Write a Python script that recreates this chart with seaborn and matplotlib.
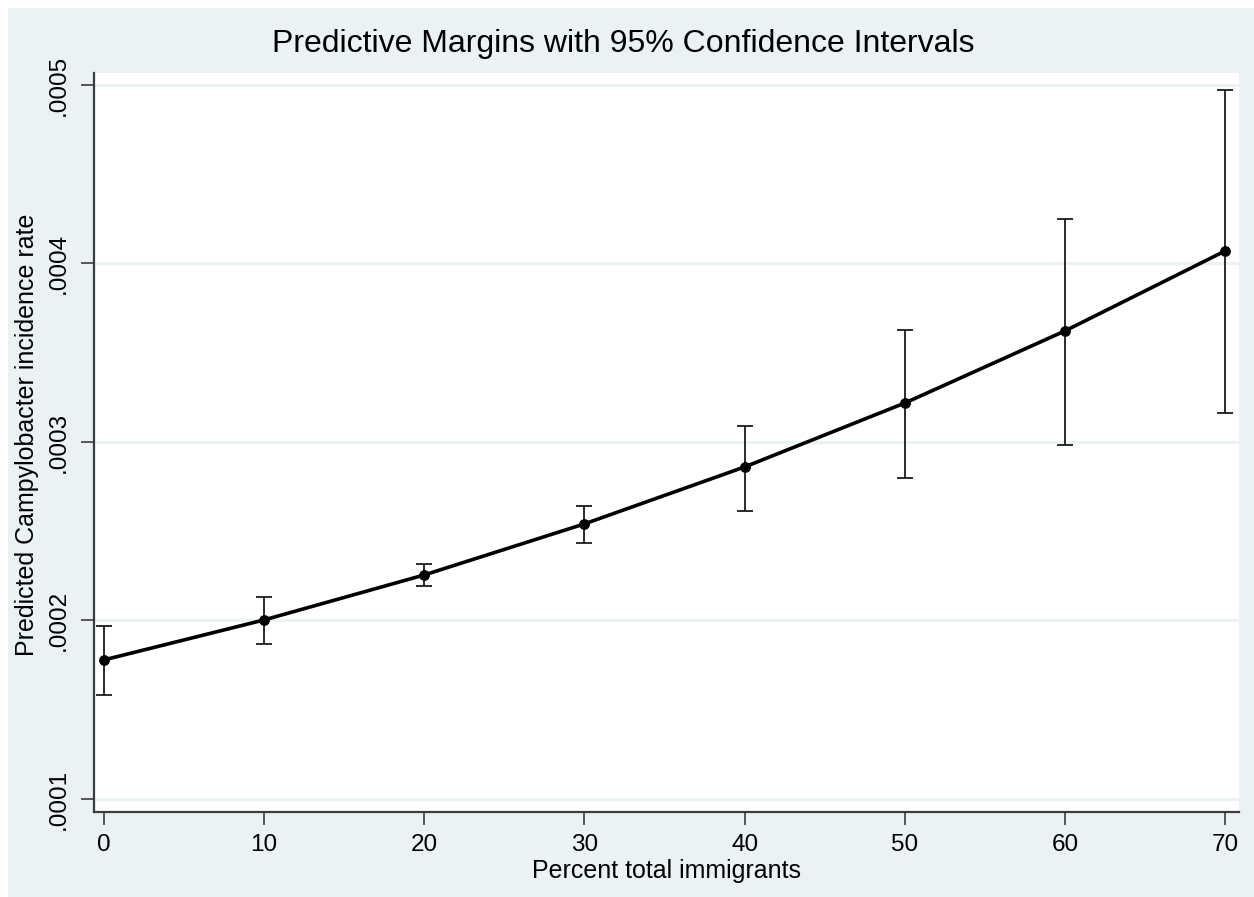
import matplotlib
matplotlib.use("Agg")
import matplotlib.pyplot as plt
from matplotlib.patches import Rectangle
from matplotlib.ticker import FuncFormatter
import seaborn as sns
import pandas as pd

# ---- data ----
pct_immigrants = [0, 10, 20, 30, 40, 50, 60, 70]
margin = [0.0001779, 0.0002003, 0.0002255, 0.0002541, 0.0002860, 0.0003218, 0.0003622, 0.0004070]
ci_low = [0.0001583, 0.0001868, 0.0002193, 0.0002434, 0.0002613, 0.0002798, 0.0002983, 0.0003162]
ci_high = [0.0001969, 0.0002132, 0.0002317, 0.0002641, 0.0003090, 0.0003627, 0.0004249, 0.0004972]
x_ticks = [0, 10, 20, 30, 40, 50, 60, 70]
y_ticks = [0.0001, 0.0002, 0.0003, 0.0004, 0.0005]

title = "Predictive Margins with 95% Confidence Intervals"
xlabel = "Percent total immigrants"
ylabel = "Predicted Campylobacter incidence rate"

df = pd.DataFrame({"x": pct_immigrants, "y": margin, "lo": ci_low, "hi": ci_high})

sns.set_theme(style="white")
plt.rcParams["font.family"] = ["Liberation Sans", "DejaVu Sans"]

BG = "#EAF2F3"
W, H = 1254, 897
fig = plt.figure(figsize=(W / 100, H / 100), dpi=100, facecolor="white")
fig.add_artist(Rectangle((8 / W, 0), 1, (H - 8) / H, transform=fig.transFigure,
                         facecolor=BG, edgecolor="none", zorder=-10))

L, R, T, B = 94, 1239, 73, 812
ax = fig.add_axes([L / W, 1 - B / H, (R - L) / W, (B - T) / H])
ax.set_facecolor("white")

# grid lines
for yv in y_ticks:
    ax.axhline(yv, color=BG, lw=2.2, zorder=0)

# confidence intervals
ax.errorbar(df["x"], df["y"], yerr=[df["y"] - df["lo"], df["hi"] - df["y"]],
            fmt="none", ecolor="#1a1a1a", elinewidth=1.3, capsize=5.5, capthick=1.3, zorder=2)

sns.lineplot(data=df, x="x", y="y", ax=ax, color="black", lw=2.6, marker="o",
             markersize=7, markeredgecolor="black", markerfacecolor="black", zorder=3)

ax.set_xlim(-0.62, 70.87)
ax.set_ylim(0.0000927, 0.0005067)
ax.set_xticks(x_ticks)
ax.set_yticks(y_ticks)
ax.yaxis.set_major_formatter(FuncFormatter(lambda v, p: f"{v:.4f}".lstrip("0")))

for s in ["top", "right"]:
    ax.spines[s].set_visible(False)
for s in ["left", "bottom"]:
    ax.spines[s].set_color("#3c3c3c")
    ax.spines[s].set_linewidth(1.6)

ax.tick_params(axis="both", which="major", length=9.5, width=1.2, color="#3c3c3c",
               labelsize=17.5, labelcolor="black", direction="out",
               left=True, bottom=True)
ax.tick_params(axis="x", pad=6)
ax.tick_params(axis="y", pad=8)
for lab in ax.get_yticklabels():
    lab.set_rotation(90)
    lab.set_va("center")

ax.set_xlabel(xlabel, fontsize=18, color="black")
ax.xaxis.set_label_coords(0.5, -0.063)
ax.set_ylabel(ylabel, fontsize=18, color="black")
ax.yaxis.set_label_coords(-0.048, 0.51)

fig.text(623 / W, 1 - 44 / H, title, ha="center", va="center", fontsize=23, color="black")

fig.savefig("out.png", dpi=100, facecolor=fig.get_facecolor())
